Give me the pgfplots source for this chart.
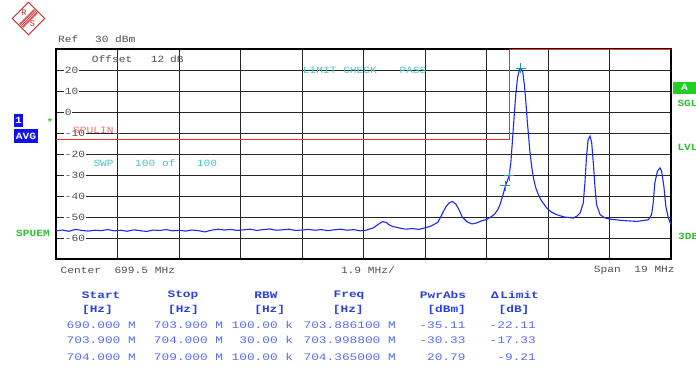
\documentclass[border=0pt]{standalone}
\usepackage{pgfplots}
\pgfplotsset{compat=1.18}
\usepackage{fontspec}
\setmainfont{Liberation Mono}
\newfontfamily\rsf[FakeStretch=1.18]{Liberation Mono}
\newfontfamily\rst[FakeStretch=1.28]{Liberation Mono}
\newcommand\fa{\rsf\fontsize{9.5}{10}\selectfont}
\newcommand\fb{\rst\fontsize{10}{11}\selectfont}
\definecolor{trace}{HTML}{1E28F0}
\definecolor{limred}{HTML}{F03030}
\definecolor{lblred}{HTML}{F07070}
\definecolor{mkteal}{HTML}{1A9A9A}
\definecolor{cyantxt}{HTML}{4CC4C4}
\definecolor{grn}{HTML}{22D022}
\definecolor{grntxt}{HTML}{30C030}
\definecolor{logored}{HTML}{D42020}
\definecolor{boxblue}{HTML}{1010F0}
\definecolor{hdrblue}{HTML}{2A40E0}
\definecolor{rowblue}{HTML}{5A6AF0}
\definecolor{txtgray}{HTML}{505050}
\pgfplotstableread{
f L
690.0 -56.6
690.2 -56.2
690.4 -56.8
690.6 -55.9
690.8 -56.4
691.0 -56.7
691.2 -56.3
691.4 -56.5
691.6 -56.0
691.8 -56.6
692.0 -56.3
692.2 -56.8
692.4 -56.1
692.6 -56.5
692.8 -56.9
693.0 -56.2
693.2 -56.4
693.4 -56.0
693.6 -56.6
693.8 -56.3
694.0 -56.7
694.2 -56.2
694.4 -56.5
694.6 -57.1
694.8 -56.3
695.0 -55.8
695.2 -56.2
695.4 -55.9
695.6 -56.4
695.8 -56.1
696.0 -55.8
696.2 -56.4
696.4 -56.0
696.6 -55.7
696.8 -56.3
697.0 -56.1
697.2 -55.8
697.4 -56.4
697.6 -56.2
697.8 -55.9
698.0 -56.3
698.2 -56.0
698.4 -56.5
698.6 -56.1
698.8 -55.8
699.0 -56.3
699.2 -56.0
699.4 -56.6
699.6 -56.2
699.8 -55.2
700.0 -53.0
700.1 -52.2
700.2 -52.6
700.3 -53.8
700.4 -54.5
700.6 -55.2
700.8 -55.8
701.0 -55.5
701.2 -55.9
701.4 -55.2
701.6 -54.2
701.8 -52.5
701.95 -48.0
702.05 -45.0
702.15 -43.2
702.25 -42.6
702.35 -43.8
702.45 -46.5
702.55 -50.0
702.7 -52.3
702.85 -53.3
703.0 -52.8
703.15 -51.8
703.3 -51.2
703.45 -49.8
703.55 -48.6
703.65 -46.5
703.72 -44.0
703.8 -40.0
703.886 -35.11
703.95 -32.5
704.0 -30.3
704.05 -24.5
704.10 -14.0
704.15 -3.0
704.20 7.5
704.26 16.5
704.32 20.3
704.365 20.79
704.42 19.0
704.47 13.0
704.51 6.0
704.56 -4.3
704.64 -18.7
704.70 -26.5
704.75 -31.4
704.82 -36.0
704.90 -39.3
705.0 -42.3
705.16 -45.7
705.3 -47.6
705.47 -48.9
705.7 -50.0
705.98 -50.5
706.1 -49.5
706.19 -48.1
706.29 -43.3
706.34 -33.8
706.39 -21.1
706.44 -13.1
706.50 -11.5
706.55 -14.7
706.60 -24.2
706.65 -35.4
706.70 -44.1
706.81 -48.9
706.95 -50.4
707.11 -51.0
707.4 -51.5
707.63 -51.8
707.94 -52.1
708.2 -51.6
708.30 -51.3
708.40 -48.9
708.45 -43.3
708.50 -33.8
708.58 -28.2
708.66 -26.6
708.71 -28.2
708.78 -35.4
708.84 -44.9
708.92 -50.5
709.0 -53.7
}\tracedata
\begin{document}
\begin{tikzpicture}
\useasboundingbox (0pt,0pt) rectangle (696pt,368pt);
\fill[white] (0pt,0pt) rectangle (696pt,368pt);
% logo
\begin{scope}[shift={(28.5pt,349.5pt)}, rotate=45]
\draw[logored, line width=0.9pt] (-11.5pt,-11.5pt) rectangle (11.5pt,11.5pt);
\foreach \s in {-2.4,-1.2,0,1.2,2.4}{\draw[logored, line width=0.6pt] (-10.5pt,\s pt) -- (10.5pt,\s pt);}
\end{scope}
\node[logored, font=\fontsize{8.5}{8.5}\selectfont] at (24pt,355pt) {R};
\node[logored, font=\fontsize{8.5}{8.5}\selectfont] at (32.5pt,344pt) {S};
\begin{axis}[at={(56pt,109pt)}, anchor=south west, scale only axis,
  width=615pt, height=210pt,
  xmin=690, xmax=709, ymin=-70, ymax=30,
  xtick={691.9,693.8,695.7,697.6,699.5,701.4,703.3,705.2,707.1}, xticklabels={},
  ytick={-60,-50,-40,-30,-20,-10,0,10,20},
  yticklabels={-60,-50,-40,-30,-20,-10,0,10,20},
  yticklabel style={anchor=west, xshift=8pt, fill=white, inner sep=0.6pt, font=\fa, text=txtgray},
  grid=major, major grid style={black!85, line width=0.9pt},
  major tick length=0pt,
  axis line style={line width=2pt}]
\addplot[draw=limred, line width=1.1pt] coordinates {(690,-13) (704,-13) (704,29.6) (709,29.6)};
\addplot[trace, line width=1.1pt] table[x=f, y=L] {\tracedata};
\addplot[only marks, mark=+, mark size=5pt, mkteal, line width=1pt] coordinates {(703.8861,-35.11) (703.9988,-30.33) (704.365,20.79)};
\end{axis}
% top annotations
\node[anchor=west, txtgray, font=\fa, inner sep=0pt] at (58pt,329pt) {Ref};
\node[anchor=west, txtgray, font=\fa, inner sep=0pt] at (95pt,329pt) {30};
\node[anchor=west, txtgray, font=\fa, inner sep=0pt] at (115pt,329pt) {dBm};
\node[anchor=west, txtgray, font=\fa, inner sep=0pt] at (91.7pt,309pt) {Offset};
\node[anchor=west, txtgray, font=\fa, inner sep=0pt] at (150.7pt,309pt) {12};
\node[anchor=west, txtgray, font=\fa, inner sep=0pt] at (170pt,309pt) {dB};
\node[anchor=west, cyantxt, font=\fa, inner sep=0pt] at (302.7pt,297.3pt) {LIMIT CHECK};
\node[anchor=west, cyantxt, font=\fa, inner sep=0pt] at (399.3pt,297.3pt) {PASS};
\node[anchor=west, cyantxt, font=\fa, inner sep=0pt] at (93.3pt,204.7pt) {SWP};
\node[anchor=west, cyantxt, font=\fa, inner sep=0pt] at (135pt,204.7pt) {100 of};
\node[anchor=west, cyantxt, font=\fa, inner sep=0pt] at (196.7pt,204.7pt) {100};
\node[anchor=west, lblred, font=\fa, inner sep=0pt] at (73pt,237.3pt) {SPULIN\_};
% left side
\fill[boxblue] (14pt,240.7pt) rectangle (22.7pt,254pt);
\node[white, font=\fa\bfseries, inner sep=0pt] at (18.4pt,247.3pt) {1};
\fill[boxblue] (14pt,225.3pt) rectangle (37.7pt,238.7pt);
\node[white, font=\fa\bfseries, inner sep=0pt] at (25.9pt,232pt) {AVG};
\node[grn, font=\fa\bfseries, inner sep=0pt] at (50pt,245.5pt) {*};
\node[anchor=west, grntxt, font=\fa\bfseries, inner sep=0pt] at (16pt,134.7pt) {SPUEM};
% right side
\fill[grn] (673pt,274pt) rectangle (696pt,286.3pt);
\node[white, font=\fa\bfseries, inner sep=0pt] at (684.5pt,280.2pt) {A};
\node[anchor=west, grntxt, font=\fa\bfseries, inner sep=0pt] at (677.3pt,264.7pt) {SGL};
\node[anchor=west, grntxt, font=\fa\bfseries, inner sep=0pt] at (677.3pt,220.7pt) {LVL};
\node[anchor=west, grntxt, font=\fa\bfseries, inner sep=0pt] at (678pt,132pt) {3DB};
% bottom axis annotations
\node[anchor=west, txtgray, font=\fa, inner sep=0pt] at (60.5pt,98pt) {Center~~699.5 MHz};
\node[anchor=west, txtgray, font=\fa, inner sep=0pt] at (340.8pt,98pt) {1.9 MHz/};
\node[anchor=east, txtgray, font=\fa, inner sep=0pt] at (674.9pt,98pt) {Span~~19 MHz};
% table headers
\node[hdrblue, font=\fb\bfseries, inner sep=0pt] at (101.2pt,73pt) {Start};
\node[hdrblue, font=\fb\bfseries, inner sep=0pt] at (183pt,73pt) {Stop};
\node[hdrblue, font=\fb\bfseries, inner sep=0pt] at (266pt,73pt) {RBW};
\node[hdrblue, font=\fb\bfseries, inner sep=0pt] at (349pt,73pt) {Freq};
\node[hdrblue, font=\fb\bfseries, inner sep=0pt] at (443pt,73pt) {PwrAbs};
\node[hdrblue, font=\fb\bfseries, inner sep=0pt] at (515pt,73pt) {Δ\,Limit};
\node[hdrblue, font=\fb\bfseries, inner sep=0pt] at (97.5pt,58pt) {[Hz]};
\node[hdrblue, font=\fb\bfseries, inner sep=0pt] at (183.5pt,58pt) {[Hz]};
\node[hdrblue, font=\fb\bfseries, inner sep=0pt] at (269.7pt,58pt) {[Hz]};
\node[hdrblue, font=\fb\bfseries, inner sep=0pt] at (348.3pt,58pt) {[Hz]};
\node[hdrblue, font=\fb\bfseries, inner sep=0pt] at (446.7pt,58pt) {[dBm]};
\node[hdrblue, font=\fb\bfseries, inner sep=0pt] at (514pt,58pt) {[dB]};
% table rows
\foreach \y/\a/\b/\c/\d/\e/\g in {43/690.000 M/703.900 M/100.00 k/703.886100 M/-35.11/-22.11,
  28/703.900 M/704.000 M/30.00 k/703.998800 M/-30.33/-17.33,
  11.3/704.000 M/709.000 M/100.00 k/704.365000 M/20.79/-9.21}{
  \node[anchor=east, rowblue, font=\fb, inner sep=0pt] at (136pt,\y pt) {\a};
  \node[anchor=east, rowblue, font=\fb, inner sep=0pt] at (223.3pt,\y pt) {\b};
  \node[anchor=east, rowblue, font=\fb, inner sep=0pt] at (293.3pt,\y pt) {\c};
  \node[anchor=east, rowblue, font=\fb, inner sep=0pt] at (396pt,\y pt) {\d};
  \node[anchor=east, rowblue, font=\fb, inner sep=0pt] at (465.7pt,\y pt) {\e};
  \node[anchor=east, rowblue, font=\fb, inner sep=0pt] at (536pt,\y pt) {\g};
}
\end{tikzpicture}
\end{document}
